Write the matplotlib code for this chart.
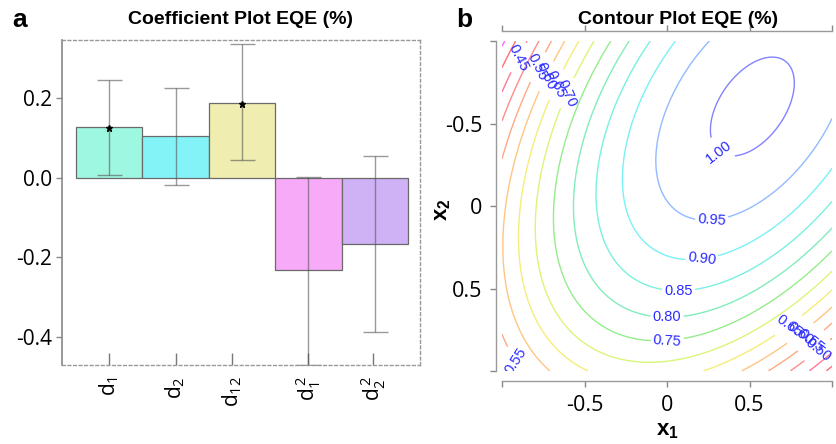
import numpy as np
import matplotlib
matplotlib.use("Agg")
import matplotlib.pyplot as plt

plt.rcParams["font.family"] = ["Open Sans", "DejaVu Sans"]
plt.rcParams["mathtext.fontset"] = "custom"
plt.rcParams["mathtext.rm"] = "Open Sans"
plt.rcParams["mathtext.it"] = "Open Sans"
plt.rcParams["mathtext.bf"] = "Liberation Sans:bold"

# coefficient estimates (panel a)
terms = [r"$\mathrm{d}_1$", r"$\mathrm{d}_2$", r"$\mathrm{d}_{12}$", r"$\mathrm{d}_1^{\,2}$", r"$\mathrm{d}_2^{\,2}$"]
coef = [0.1275, 0.105, 0.1875, -0.2325, -0.1675]
ci_low = [0.0075, -0.0175, 0.045, -0.47, -0.3875]
ci_high = [0.245, 0.225, 0.335, 0.0025, 0.055]
significant = [True, False, True, False, False]
bar_colors = ["#9ef7e0", "#84f3f8", "#efedb0", "#f7aaf7", "#cfb1f5"]

# response surface model (panel b): intercept + the coefficients above
intercept = 0.947
levels = [0.35, 0.40, 0.45, 0.50, 0.55, 0.60, 0.65, 0.70, 0.75, 0.80, 0.85, 0.90, 0.95, 1.00]
level_colors = ["#ff00ff", "#ff1010", "#ff2050", "#ff4040", "#ff7030", "#ffa030",
                "#f0e020", "#c0f020", "#50e040", "#30e090", "#20e8c8", "#20e8f0",
                "#4a8cff", "#3030ff"]

fig = plt.figure(figsize=(8.36, 4.44), dpi=100)
W, H = 836, 444


def box(x0, y0, x1, y1):
    return [x0 / W, 1 - y1 / H, (x1 - x0) / W, (y1 - y0) / H]


# ---------------- panel a: coefficient plot ----------------
ax = fig.add_axes(box(62, 40, 420, 365))
x = np.arange(len(coef))
ax.bar(x, coef, width=1.0, color=bar_colors, edgecolor="#6a6a6a", linewidth=0.9, zorder=1)
yerr = [np.array(coef) - np.array(ci_low), np.array(ci_high) - np.array(coef)]
ax.errorbar(x, coef, yerr=yerr, fmt="none", ecolor="#555555", alpha=0.6,
            elinewidth=1.0, capsize=9, capthick=1.0, zorder=2)
for xi, c, s in zip(x, coef, significant):
    if s:
        ax.plot(xi, c - 0.003, marker="*", color="black", markersize=5, zorder=3)

ax.set_xlim(-0.71, 4.68)
ax.set_ylim(-0.47, 0.345)
ax.set_yticks([-0.4, -0.2, 0.0, 0.2])
ax.set_yticklabels(["-0.4", "-0.2", "0.0", "0.2"])
ax.set_xticks([0, 1, 1.85, 3, 3.97])
ax.set_xticklabels(terms, rotation=90)
ax.tick_params(axis="y", direction="out", length=4, width=1, color="#888888",
               labelsize=15, pad=3)
ax.tick_params(axis="x", direction="in", length=9, width=1, color="#777777",
               labelsize=15, pad=8)
ax.spines["left"].set_color("#888888")
ax.spines["left"].set_linewidth(1.2)
for side in ["top", "right", "bottom"]:
    ax.spines[side].set_linestyle((0, (2, 2)))
    ax.spines[side].set_color("#999999")
    ax.spines[side].set_linewidth(1.0)

fig.text(241 / W, 1 - 19 / H, "Coefficient Plot EQE (%)", ha="center", va="center",
         fontsize=14, fontweight="bold", family="Liberation Sans")
fig.text(20 / W, 1 - 20 / H, "a", ha="center", va="center", fontsize=19,
         fontweight="bold", family="Liberation Sans")

# ---------------- panel b: contour plot ----------------
ax2 = fig.add_axes(box(502, 41, 832, 371))
x1 = np.linspace(-1, 1, 201)
yy = np.linspace(-1, 1, 201)
X1, Y = np.meshgrid(x1, yy)
X2 = -Y
Z = (intercept + coef[0] * X1 + coef[1] * X2 + coef[2] * X1 * X2
     + coef[3] * X1 ** 2 + coef[4] * X2 ** 2)

cs = ax2.contour(X1, Y, Z, levels=levels, colors=level_colors, linewidths=1.0, alpha=0.6)
label_spots = [(-0.9, -0.9), (-0.8, -0.85), (-0.74, -0.79), (-0.68, -0.74), (-0.62, -0.69),
               (0.34, -0.36), (0.27, 0.07), (0.21, 0.31), (0.07, 0.49), (0.0, 0.65),
               (0.0, 0.79), (-0.9, 0.93), (0.72, 0.7), (0.8, 0.76), (0.86, 0.8),
               (0.9, 0.86)]
labels = ax2.clabel(cs, inline=True, fontsize=10.5, fmt="%.2f", colors="#2a2aff",
                    manual=label_spots, inline_spacing=2)
for t in labels:
    t.set_family("Liberation Sans")
    t.set_alpha(1.0)

ax2.set_xlim(-1, 1)
ax2.set_ylim(1, -1)
ticks = [-1, -0.5, 0, 0.5, 1]
tick_text = ["", "-0.5", "0", "0.5", ""]
ax2.set_xticks(ticks)
ax2.set_xticklabels(tick_text)
ax2.set_yticks(ticks)
ax2.set_yticklabels(tick_text, rotation=90, va="center")
ax2.tick_params(axis="both", direction="out", length=4, width=1, color="#888888",
                labelsize=15.5, pad=6)
ax2.tick_params(axis="x", top=True, labeltop=False)
ax2.spines["right"].set_visible(False)
ax2.spines["left"].set_position(("outward", 4))
ax2.spines["bottom"].set_position(("outward", 7))
ax2.spines["top"].set_position(("outward", 7))
for side in ["left", "bottom", "top"]:
    ax2.spines[side].set_color("#999999")
    ax2.spines[side].set_linewidth(1.0)

fig.text(443 / W, 1 - 210 / H, r"$\mathbf{x}_\mathbf{2}$", ha="center", va="center",
         fontsize=16, rotation=90)
fig.text(667 / W, 1 - 430 / H, r"$\mathbf{x}_\mathbf{1}$", ha="center", va="center",
         fontsize=16)
fig.text(678 / W, 1 - 19 / H, "Contour Plot EQE (%)", ha="center", va="center",
         fontsize=14, fontweight="bold", family="Liberation Sans")
fig.text(464 / W, 1 - 20 / H, "b", ha="center", va="center", fontsize=19,
         fontweight="bold", family="Liberation Sans")

fig.savefig("out.png", dpi=100)
